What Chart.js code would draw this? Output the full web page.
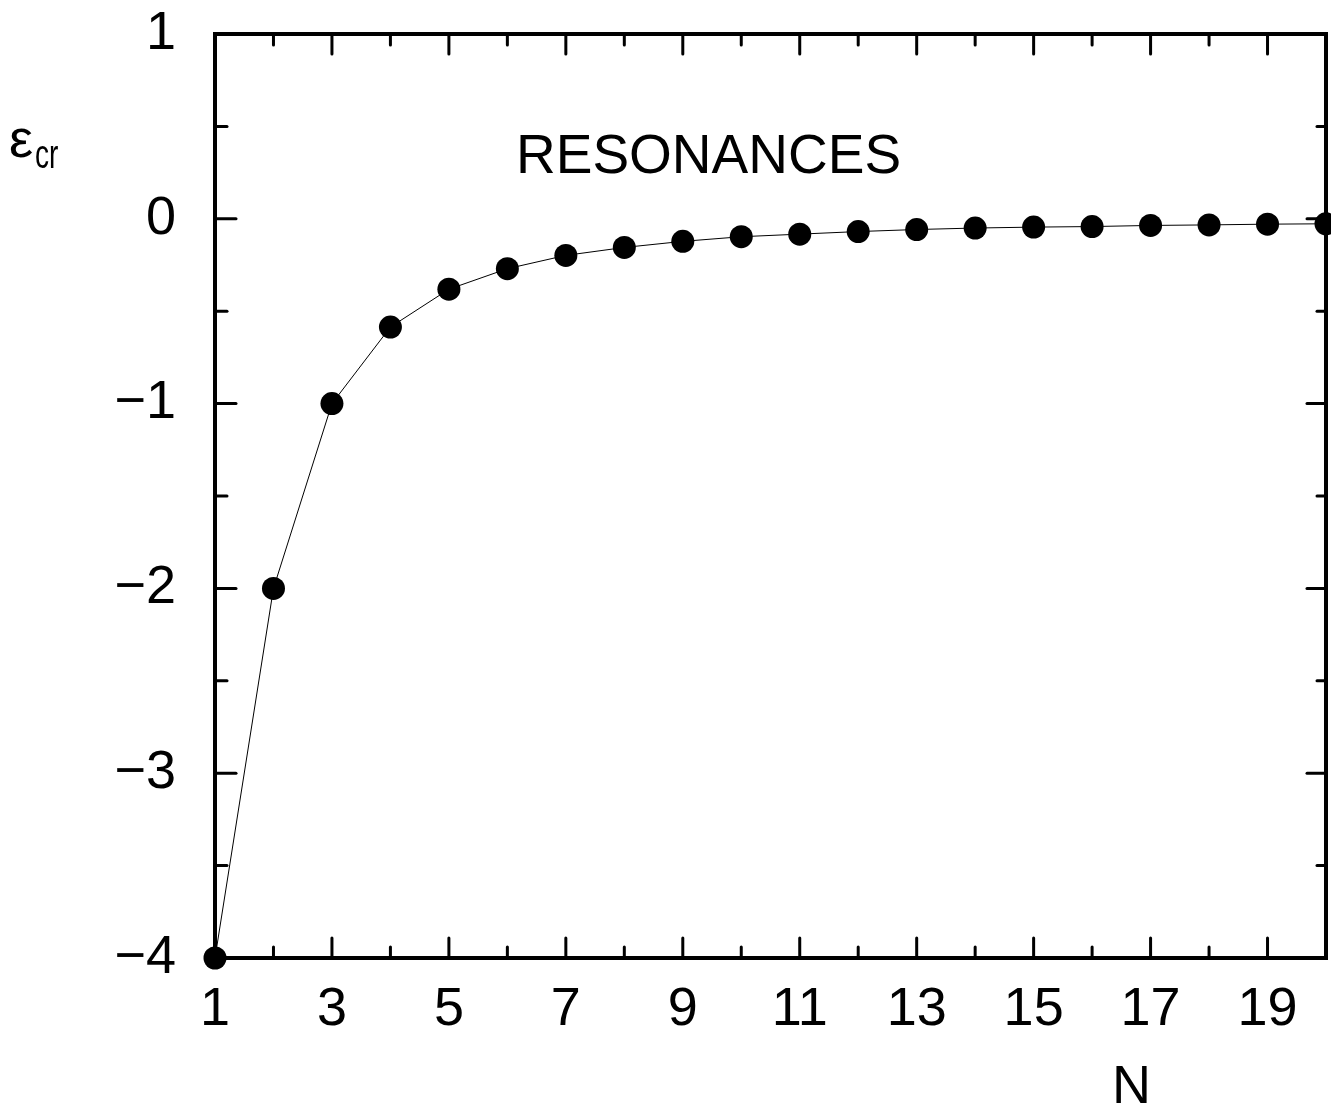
<!DOCTYPE html>
<html>
<head>
<meta charset="utf-8">
<script src="https://cdn.jsdelivr.net/npm/chart.js@4.4.1/dist/chart.umd.min.js"></script>
<style>
  html, body { margin: 0; padding: 0; background: #fff; }
  #wrap { width: 1331px; height: 1110px; position: relative; }
</style>
</head>
<body>
<div id="wrap"><canvas id="c" width="1331" height="1110"></canvas></div>
<script>
// ---- data ----
const nValues = [1, 2, 3, 4, 5, 6, 7, 8, 9, 10, 11, 12, 13, 14, 15, 16, 17, 18, 19, 20];
const epsCr = [-4, -2, -1, -0.586, -0.381, -0.270, -0.198, -0.155, -0.122, -0.097,
               -0.083, -0.069, -0.058, -0.050, -0.045, -0.042, -0.036, -0.033, -0.029, -0.027];
const xTickLabels = [1, 3, 5, 7, 9, 11, 13, 15, 17, 19];
const yTickLabels = [1, 0, -1, -2, -3, -4];
const annotationText = 'RESONANCES';
const xTitle = 'N';
const yTitleMain = 'ε';
const yTitleSub = 'cr';

const FONT = '"Liberation Sans", Arial, sans-serif';

const points = nValues.map((n, i) => ({ x: n, y: epsCr[i] }));

const framePlugin = {
  id: 'frame',
  afterDatasetsDraw(chart) {
    const ctx = chart.ctx;
    const a = chart.chartArea;
    const xs = chart.scales.x, ys = chart.scales.y;
    ctx.save();
    ctx.strokeStyle = '#000';
    ctx.lineWidth = 4;
    ctx.lineCap = 'butt';
    ctx.strokeRect(a.left, a.top, a.right - a.left, a.bottom - a.top);
    ctx.lineWidth = 3;
    ctx.lineCap = 'round';
    xs.ticks.forEach(t => {
      const px = xs.getPixelForValue(t.value);
      const major = xTickLabels.includes(t.value);
      const len = major ? 20 : 11;
      if (px <= a.left + 2 || px >= a.right - 2) return;
      ctx.beginPath(); ctx.moveTo(px, a.bottom); ctx.lineTo(px, a.bottom - len); ctx.stroke();
      ctx.beginPath(); ctx.moveTo(px, a.top); ctx.lineTo(px, a.top + len); ctx.stroke();
    });
    ys.ticks.forEach(t => {
      const py = ys.getPixelForValue(t.value);
      const major = yTickLabels.includes(t.value);
      if (py <= a.top + 2 || py >= a.bottom - 2) return;
      const lenL = major ? 21 : 12;
      const lenR = major ? 19 : 9;
      ctx.beginPath(); ctx.moveTo(a.left, py); ctx.lineTo(a.left + lenL, py); ctx.stroke();
      ctx.beginPath(); ctx.moveTo(a.right, py); ctx.lineTo(a.right - lenR, py); ctx.stroke();
    });
    ctx.restore();
  },
  afterDraw(chart) {
    const ctx = chart.ctx;
    ctx.save();
    ctx.fillStyle = '#000';
    ctx.textBaseline = 'alphabetic';
    ctx.textAlign = 'left';
    ctx.font = '55px ' + FONT;
    ctx.fillText(annotationText, 516, 173);
    ctx.font = '54px ' + FONT;
    ctx.fillText(xTitle, 1112, 1103);
    ctx.fillText(yTitleMain, 9, 157);
    ctx.save();
    ctx.translate(35, 168);
    ctx.scale(0.7, 1);
    ctx.font = '40px ' + FONT;
    ctx.fillText(yTitleSub, 0, 0);
    ctx.restore();
    ctx.restore();
  }
};

function zeroPad(s) { s.paddingLeft = 0; s.paddingRight = 0; s.paddingTop = 0; s.paddingBottom = 0; }

new Chart(document.getElementById('c'), {
  type: 'scatter',
  data: {
    datasets: [{
      data: points,
      showLine: true,
      borderColor: '#000',
      borderWidth: 1,
      backgroundColor: '#000',
      pointBackgroundColor: '#000',
      pointBorderColor: '#000',
      pointRadius: 11.5,
      pointBorderWidth: 0,
      pointHoverRadius: 11.5,
      clip: false,
      tension: 0
    }]
  },
  options: {
    responsive: false,
    animation: false,
    events: [],
    layout: { autoPadding: false, padding: { top: 34, right: 5, left: 0, bottom: 0 } },
    plugins: { legend: { display: false }, tooltip: { enabled: false } },
    scales: {
      x: {
        type: 'linear',
        min: 1, max: 20,
        border: { display: false },
        grid: { display: true, drawOnChartArea: false, drawTicks: false, color: 'rgba(0,0,0,0)' },
        ticks: {
          stepSize: 1,
          autoSkip: false,
          maxRotation: 0,
          padding: 20,
          color: '#000',
          font: { family: FONT, size: 54 },
          callback: v => xTickLabels.includes(v) ? String(v) : ''
        },
        afterFit: s => { s.height = 152; zeroPad(s); }
      },
      y: {
        type: 'linear',
        min: -4, max: 1,
        border: { display: false },
        grid: { display: true, drawOnChartArea: false, drawTicks: false, color: 'rgba(0,0,0,0)' },
        ticks: {
          stepSize: 0.5,
          autoSkip: false,
          padding: 39,
          color: '#000',
          font: { family: FONT, size: 54 },
          callback: v => yTickLabels.includes(v) ? (v < 0 ? '\u2212' + Math.abs(v) : String(v)) : ''
        },
        afterFit: s => { s.width = 215; zeroPad(s); }
      }
    }
  },
  plugins: [framePlugin]
});
</script>
</body>
</html>
